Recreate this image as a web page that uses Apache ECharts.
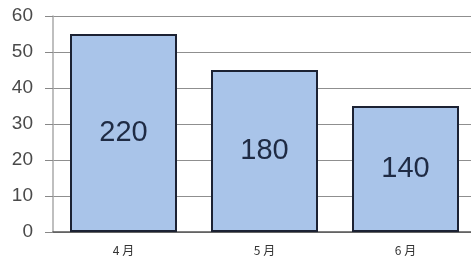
<!DOCTYPE html>
<html>
<head>
<meta charset="utf-8">
<script src="https://cdn.jsdelivr.net/npm/echarts@6/dist/echarts.min.js"></script>
<style>
  html, body { margin: 0; padding: 0; background: #ffffff; overflow: hidden; }
  #main { width: 476px; height: 263px; }
</style>
</head>
<body>
<div id="main"></div>
<script>
var months = ["4 月", "5 月", "6 月"];
var heights = [55, 45, 35];
var labels = ["220", "180", "140"];
var yTicks = [0, 10, 20, 30, 40, 50, 60];

var chart = echarts.init(document.getElementById("main"));
var option = {
  animation: false,
  grid: {
    left: 53,
    top: 16,
    right: 0,
    height: 216
  },
  xAxis: {
    type: "category",
    data: months,
    axisLine: { lineStyle: { color: "#555", width: 1.5 } },
    axisTick: { show: false },
    axisLabel: {
      color: "#333",
      fontSize: 12,
      margin: 12,
      fontFamily: "Noto Sans CJK JP"
    }
  },
  yAxis: {
    type: "value",
    min: yTicks[0],
    max: yTicks[yTicks.length - 1],
    interval: 10,
    axisLine: { show: true, lineStyle: { color: "#aaa", width: 1.5 } },
    axisTick: { show: true, length: 8, lineStyle: { color: "#888" } },
    axisLabel: {
      color: "#4a4a4a",
      fontSize: 19,
      margin: 20,
      fontFamily: "Liberation Sans"
    },
    splitLine: { lineStyle: { color: "#8f8f8f", width: 1 } }
  },
  series: [
    {
      type: "bar",
      data: heights,
      barWidth: 107,
      itemStyle: {
        color: "#a9c4e9",
        borderColor: "#1c2233",
        borderWidth: 2
      },
      label: {
        show: true,
        position: "inside",
        formatter: function (p) { return labels[p.dataIndex]; },
        color: "#1f2b44",
        fontSize: 29,
        fontFamily: "Liberation Sans"
      }
    }
  ]
};
chart.setOption(option);
</script>
</body>
</html>
